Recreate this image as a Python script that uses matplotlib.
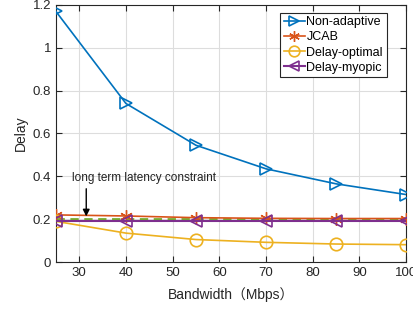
import matplotlib
matplotlib.use("Agg")
import matplotlib.pyplot as plt

plt.rcParams['font.family'] = ['Liberation Sans', 'DejaVu Sans']

bandwidth = [25, 40, 55, 70, 85, 100]
non_adaptive = [1.17, 0.74, 0.545, 0.435, 0.365, 0.315]
jcab = [0.22, 0.215, 0.207, 0.204, 0.203, 0.203]
delay_optimal = [0.19, 0.135, 0.105, 0.092, 0.084, 0.081]
delay_myopic = [0.19, 0.19, 0.19, 0.19, 0.19, 0.19]
constraint = 0.2

fig = plt.figure(figsize=(4.14, 3.09), dpi=100)
ax = fig.add_axes([0.135, 0.152, 0.846, 0.832])

ax.plot(bandwidth, [constraint]*len(bandwidth), color='#77AC30', lw=2, ls=(0, (3, 2)), zorder=2)
ax.plot(bandwidth, non_adaptive, color='#0072BD', marker='>', mfc='none', ms=9, mew=1.2, lw=1.2, label='Non-adaptive', zorder=3)
ax.plot(bandwidth, jcab, color='#D95319', marker=(6, 2, 0), mfc='none', ms=9, mew=1.0, lw=1.2, label='JCAB', zorder=3)
ax.plot(bandwidth, delay_optimal, color='#EDB120', marker='o', mfc='none', ms=9, mew=1.2, lw=1.2, label='Delay-optimal', zorder=3)
ax.plot(bandwidth, delay_myopic, color='#7E2F8E', marker='<', mfc='none', ms=9, mew=1.2, lw=1.5, label='Delay-myopic', zorder=3)

ax.annotate('', xy=(31.5, 0.2), xytext=(31.5, 0.355),
            arrowprops=dict(arrowstyle='-|>', color='black', lw=1.0, mutation_scale=10))
ax.text(28.5, 0.39, 'long term latency constraint', fontsize=8.5, color='#222222', va='center')

ax.set_xlim(25, 100)
ax.set_ylim(0, 1.2)
ax.set_xticks([30, 40, 50, 60, 70, 80, 90, 100])
ax.set_yticks([0, 0.2, 0.4, 0.6, 0.8, 1.0, 1.2])
ax.set_yticklabels(['0', '0.2', '0.4', '0.6', '0.8', '1', '1.2'])
ax.grid(True, color='#dddddd', lw=0.8)
ax.set_axisbelow(True)
ax.tick_params(direction='in', top=True, right=True, labelsize=9.5, colors='#262626', length=4)
for s in ax.spines.values():
    s.set_color('#262626')
    s.set_linewidth(0.8)
ax.set_xlabel('Bandwidth（Mbps）', fontsize=10, color='#262626', labelpad=6,
              family=['Liberation Sans', 'Noto Sans CJK SC'])
ax.set_ylabel('Delay', fontsize=10, color='#262626', labelpad=3)

leg = ax.legend(loc='upper right', bbox_to_anchor=(0.955, 0.985), fontsize=9, fancybox=False,
                framealpha=1, edgecolor='#262626', handlelength=1.7, handletextpad=0.1,
                borderpad=0.3, labelspacing=0.25, borderaxespad=0.3, markerscale=0.85)
leg.get_frame().set_linewidth(0.8)

fig.savefig('out.png', dpi=100)
